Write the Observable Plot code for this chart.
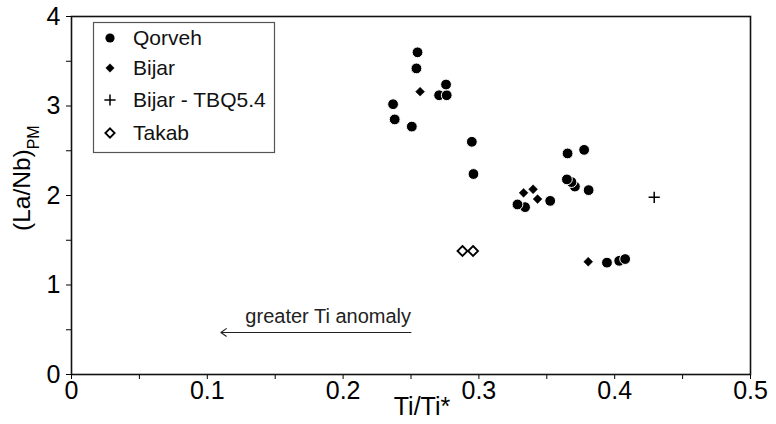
<!DOCTYPE html>
<html>
<head>
<meta charset="utf-8">
<script src="https://cdn.jsdelivr.net/npm/d3@7"></script>
<script src="https://cdn.jsdelivr.net/npm/@observablehq/plot@0.6"></script>
<style>
  html, body { margin: 0; padding: 0; background: #fff; }
  #chart { width: 776px; height: 424px; }
</style>
</head>
<body>
<div id="chart"></div>
<script>
// ---- data ----
const qorvehX = [0.2548, 0.2540, 0.2707, 0.2763, 0.2758, 0.2368, 0.2380, 0.2506, 0.2948, 0.2960,
                 0.3653, 0.3775, 0.3707, 0.3682, 0.3648, 0.3808, 0.3340, 0.3284, 0.3525, 0.3943, 0.4033, 0.4077];
const qorvehY = [3.60, 3.42, 3.12, 3.12, 3.24, 3.02, 2.85, 2.77, 2.60, 2.24,
                 2.47, 2.51, 2.10, 2.15, 2.18, 2.06, 1.87, 1.90, 1.94, 1.25, 1.27, 1.29];
const bijarX = [0.2567, 0.3329, 0.3399, 0.3432, 0.3805];
const bijarY = [3.16, 2.03, 2.07, 1.96, 1.26];
const tbqX = [0.4291];
const tbqY = [1.98];
const takabX = [0.2879, 0.2957];
const takabY = [1.38, 1.38];

const xTicks = [0, 0.05, 0.1, 0.15, 0.2, 0.25, 0.3, 0.35, 0.4, 0.45, 0.5];
const xTickLabels = ["0", "", "0.1", "", "0.2", "", "0.3", "", "0.4", "", "0.5"];
const yTicks = [0, 0.5, 1, 1.5, 2, 2.5, 3, 3.5, 4];
const yTickLabels = ["0", "", "1", "", "2", "", "3", "", "4"];

const legendNames = ["Qorveh", "Bijar", "Bijar - TBQ5.4", "Takab"];
const annotation = {x1: 0.25, x2: 0.11, y: 0.47, text: "greater Ti anomaly", textY: 0.57};
const xTitle = "Ti/Ti*";
const yTitleMain = "(La/Nb)";
const yTitleSub = "PM";

const rows = (xs, ys) => xs.map((x, i) => ({x, y: ys[i]}));
const qorveh = rows(qorvehX, qorvehY);
const bijar = rows(bijarX, bijarY);
const tbq = rows(tbqX, tbqY);
const takab = rows(takabX, takabY);

const regular = "'Liberation Sans', Arial, sans-serif";

const svg = Plot.plot({
  width: 776,
  height: 424,
  marginLeft: 71,
  marginRight: 26,
  marginTop: 16,
  marginBottom: 50,
  style: {fontFamily: regular, fontSize: "25px", color: "#000", background: "#fff", overflow: "visible"},
  x: {domain: [0, 0.5]},
  y: {domain: [0, 4]},
  marks: [
    Plot.axisX({ticks: xTicks, tickFormat: (d) => xTickLabels[xTicks.indexOf(d)], tickSize: 5, tickPadding: 2, label: null, fontSize: 25}),
    Plot.axisY({ticks: yTicks, tickFormat: (d) => yTickLabels[yTicks.indexOf(d)], tickSize: 5, tickPadding: 6, label: null, fontSize: 25}),
    Plot.frame({stroke: "#111", strokeWidth: 1.6}),
    Plot.arrow([annotation], {x1: "x1", x2: "x2", y1: "y", y2: "y", stroke: "#222", strokeWidth: 1.1, headLength: 9, headAngle: 70}),
    Plot.text([annotation], {x: "x1", y: "textY", text: "text", textAnchor: "end", lineAnchor: "bottom", fontSize: 20, fontFamily: regular, fill: "#222"}),
    Plot.dot(qorveh, {x: "x", y: "y", r: 5.4, fill: "#000", stroke: "#fff", strokeWidth: 1}),
    Plot.dot(bijar, {x: "x", y: "y", r: 4, symbol: "diamond2", fill: "#000", stroke: "#000", strokeWidth: 0.5}),
    Plot.dot(tbq, {x: "x", y: "y", r: 3.7, symbol: "plus", stroke: "#000", strokeWidth: 1.5}),
    Plot.dot(takab, {x: "x", y: "y", r: 4.5, symbol: "diamond2", fill: "#fff", stroke: "#000", strokeWidth: 1.8})
  ]
});

const s = d3.select(svg);

// x title
s.append("text")
  .attr("x", 422).attr("y", 415)
  .attr("text-anchor", "middle")
  .style("font-family", regular).style("font-size", "25px").attr("fill", "#000")
  .text(xTitle);

// y title with subscript
const yt = s.append("text")
  .attr("transform", "translate(30,231) rotate(-90)")
  .attr("text-anchor", "start")
  .style("font-family", regular).style("font-size", "24.5px").attr("fill", "#000");
yt.append("tspan").text(yTitleMain);
yt.append("tspan").attr("dy", 9).style("font-size", "16px").text(yTitleSub);

// legend
const lg = s.append("g").attr("text-anchor", "start");
lg.append("rect").attr("x", 93.5).attr("y", 22.5).attr("width", 181).attr("height", 130)
  .attr("fill", "#fff").attr("stroke", "#555").attr("stroke-width", 1.2);
const legendY = [38, 68, 100, 133];
const symDefs = [
  {type: d3.symbolCircle, size: Math.PI * 4.6 * 4.6, fill: "#000", stroke: "none", sw: 0},
  {type: d3.symbolDiamond2, size: Math.PI * 3.8 * 3.8, fill: "#000", stroke: "#000", sw: 0.5},
  {type: d3.symbolPlus, size: Math.PI * 3.7 * 3.7, fill: "none", stroke: "#000", sw: 1.5},
  {type: d3.symbolDiamond2, size: Math.PI * 4.2 * 4.2, fill: "#fff", stroke: "#000", sw: 1.8}
];
legendNames.forEach((name, i) => {
  const d = symDefs[i];
  lg.append("path")
    .attr("d", d3.symbol(d.type, d.size)())
    .attr("transform", `translate(110,${legendY[i]})`)
    .attr("fill", d.fill).attr("stroke", d.stroke).attr("stroke-width", d.sw);
  lg.append("text")
    .attr("x", 133).attr("y", legendY[i]).attr("dy", "0.35em")
    .attr("text-anchor", "start")
    .style("font-family", regular).style("font-size", "21px").attr("fill", "#111")
    .text(name);
});

document.getElementById("chart").appendChild(svg);
</script>
</body>
</html>
